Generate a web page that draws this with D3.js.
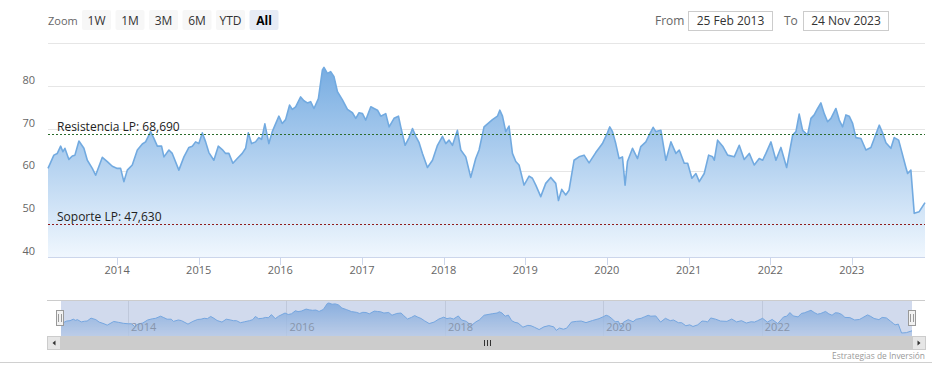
<!DOCTYPE html>
<html><head><meta charset="utf-8">
<script src="https://cdn.jsdelivr.net/npm/d3@7"></script>
<style>
body{margin:0;background:#fff}
svg{display:block;font-family:'Open Sans',sans-serif}
</style>
</head><body>
<svg id="c" width="943" height="379"></svg>
<script>
// ---- DATA ----
const startLabel = "25 Feb 2013", endLabel = "24 Nov 2023";
const startYear = 2013.153, endYear = 2023.897;
const dateYears = [2013.153,2013.225,2013.267,2013.308,2013.336,2013.360,2013.409,2013.451,2013.483,2013.532,2013.593,2013.635,2013.696,2013.737,2013.819,2013.880,2013.941,2014.002,2014.043,2014.083,2014.125,2014.186,2014.248,2014.309,2014.349,2014.411,2014.451,2014.493,2014.545,2014.574,2014.635,2014.676,2014.757,2014.819,2014.880,2014.922,2014.962,2015.002,2015.044,2015.085,2015.125,2015.186,2015.240,2015.289,2015.330,2015.370,2015.419,2015.473,2015.534,2015.575,2015.608,2015.648,2015.697,2015.738,2015.771,2015.811,2015.860,2015.902,2015.983,2016.024,2016.065,2016.114,2016.147,2016.188,2016.249,2016.289,2016.331,2016.371,2016.412,2016.466,2016.515,2016.534,2016.576,2016.616,2016.657,2016.699,2016.760,2016.821,2016.882,2016.923,2016.963,2017.005,2017.045,2017.107,2017.147,2017.189,2017.229,2017.290,2017.331,2017.392,2017.446,2017.474,2017.527,2017.576,2017.618,2017.658,2017.699,2017.740,2017.801,2017.863,2017.924,2017.985,2018.026,2018.066,2018.108,2018.169,2018.210,2018.271,2018.332,2018.393,2018.434,2018.495,2018.598,2018.659,2018.688,2018.721,2018.761,2018.801,2018.843,2018.884,2018.924,2018.985,2019.047,2019.088,2019.129,2019.190,2019.251,2019.313,2019.374,2019.407,2019.447,2019.496,2019.537,2019.598,2019.659,2019.721,2019.782,2019.864,2019.946,2020.007,2020.036,2020.069,2020.109,2020.150,2020.191,2020.223,2020.252,2020.314,2020.375,2020.415,2020.477,2020.517,2020.566,2020.599,2020.661,2020.722,2020.783,2020.844,2020.885,2020.946,2020.988,2021.040,2021.089,2021.130,2021.191,2021.245,2021.294,2021.314,2021.355,2021.417,2021.478,2021.559,2021.620,2021.681,2021.743,2021.804,2021.865,2021.907,2021.947,2022.009,2022.070,2022.131,2022.201,2022.275,2022.315,2022.355,2022.397,2022.458,2022.499,2022.539,2022.581,2022.621,2022.662,2022.703,2022.744,2022.805,2022.846,2022.887,2022.928,2022.968,2023.010,2023.050,2023.112,2023.173,2023.234,2023.275,2023.336,2023.377,2023.418,2023.479,2023.520,2023.574,2023.623,2023.663,2023.684,2023.724,2023.765,2023.826,2023.897];
const values = [60.7,63.8,64.2,65.9,64.6,65.4,62.8,63.6,63.8,67.1,65.4,62.6,60.7,59.1,63.3,62.3,61.2,60.7,60.7,57.6,60.3,61.5,65.0,66.4,66.9,69.3,67.7,65.9,65.9,63.4,65.0,64.2,60.3,63.4,65.6,65.9,66.9,66.5,69.0,66.9,64.4,62.6,65.9,65.1,64.2,64.2,61.9,63.0,64.2,65.4,69.0,66.5,66.9,67.9,67.5,71.1,66.5,69.3,72.9,71.2,72.1,75.5,74.5,75.1,77.4,76.5,76.0,76.3,74.7,77.0,83.7,84.3,82.9,83.3,82.1,78.6,76.7,74.5,73.7,72.4,73.7,73.5,72.0,75.1,74.7,74.3,72.9,73.5,70.4,72.4,72.9,70.4,66.1,67.9,70.0,68.2,66.7,64.2,60.9,62.6,66.1,68.2,66.5,67.3,66.1,69.6,65.0,63.4,58.6,63.0,65.0,70.4,72.1,72.9,74.3,72.9,69.3,70.6,64.2,62.3,61.5,56.8,58.9,58.4,56.8,54.1,57.2,58.6,57.2,53.2,55.8,54.5,55.6,62.6,63.4,63.8,62.0,64.4,66.5,69.0,70.4,69.3,66.5,63.0,63.4,56.8,62.3,65.4,63.0,65.8,66.9,68.5,70.3,69.3,69.6,62.6,66.9,64.2,65.0,61.9,61.9,58.4,59.5,57.6,59.5,63.8,63.4,62.6,67.3,65.9,63.8,63.4,66.1,62.8,64.2,61.5,63.0,62.6,64.2,66.9,62.6,65.6,60.9,68.5,69.3,73.4,69.6,68.5,72.4,73.2,74.7,76.0,73.5,71.6,72.4,74.7,72.0,70.4,73.2,72.9,71.2,67.9,67.7,65.0,65.6,67.7,70.8,69.0,66.7,65.4,67.9,67.3,63.8,60.9,59.5,60.3,50.2,50.6,52.7];
const yTickValues = [40,50,60,70,80,90];
const yTickLabels = ["40","50","60","70","80",""];
const levelValues = [68.69, 47.63];
const levelLabels = ["Resistencia LP: 68,690", "Soporte LP: 47,630"];
const levelColors = ["#2b6b2b", "#8e1c1c"];
const zoomButtons = ["1W","1M","3M","6M","YTD","All"];
const creditText = "Estrategias de Inversión";

// ---- helpers ----
function yearToDate(y){const yr=Math.floor(y);const a=Date.UTC(yr,0,1),b=Date.UTC(yr+1,0,1);return new Date(a+(y-yr)*(b-a));}
const data = dateYears.map((d,i)=>({date:yearToDate(d), v:values[i]}));
const t0 = yearToDate(startYear), t1 = yearToDate(endYear);

const svg = d3.select("#c");
const defs = svg.append("defs");
const PL=48, PR=925, PT=43, PB=257;

// ---- main scales ----
const x = d3.scaleUtc().domain([t0,t1]).range([PL,PR]);
const y = d3.scaleLinear().domain([40,90]).range([PB,PT]);

// gradient
const g1 = defs.append("linearGradient").attr("id","ga").attr("gradientUnits","userSpaceOnUse")
  .attr("x1",0).attr("x2",0).attr("y1",PT).attr("y2",PB);
g1.append("stop").attr("offset",0).attr("stop-color","rgb(104,163,222)");
g1.append("stop").attr("offset",1).attr("stop-color","rgb(240,247,254)");

// gridlines
svg.append("g").selectAll("line").data(yTickValues.filter(v=>v>40)).join("line")
  .attr("x1",PL).attr("x2",PR).attr("y1",d=>Math.round(y(d))+0.5).attr("y2",d=>Math.round(y(d))+0.5)
  .attr("stroke","#e6e6e6").attr("stroke-width",1);

// area + line
const area = d3.area().x(d=>x(d.date)).y0(PB).y1(d=>y(d.v)).curve(d3.curveLinear);
const line = d3.line().x(d=>x(d.date)).y(d=>y(d.v)).curve(d3.curveLinear);
svg.append("path").datum(data).attr("d",area).attr("fill","url(#ga)");
svg.append("path").datum(data).attr("d",line).attr("fill","none").attr("stroke","#72aae0").attr("stroke-width",1.6).attr("stroke-linejoin","round");

// y labels
svg.append("g").selectAll("text").data(yTickValues.map((v,i)=>({v,l:yTickLabels[i]})).filter(d=>d.l)).join("text")
  .attr("x",35).attr("y",d=>y(d.v)-2).attr("text-anchor","end")
  .attr("fill","#666").attr("font-size","11px").text(d=>d.l);

// x axis
svg.append("line").attr("x1",PL).attr("x2",PR).attr("y1",PB+0.5).attr("y2",PB+0.5).attr("stroke","#ccd6eb");
const years = d3.utcYear.range(d3.utcYear.ceil(t0), t1);
const xa = svg.append("g");
xa.selectAll("line").data(years).join("line")
  .attr("x1",d=>Math.round(x(d))+0.5).attr("x2",d=>Math.round(x(d))+0.5)
  .attr("y1",PB).attr("y2",PB+8).attr("stroke","#ccd6eb");
xa.selectAll("text").data(years).join("text")
  .attr("x",d=>x(d)).attr("y",PB+17).attr("text-anchor","middle")
  .attr("fill","#666").attr("font-size","11px").text(d=>d3.utcFormat("%Y")(d));

// plot lines
levelValues.forEach((v,i)=>{
  const yy = Math.round(y(v))+0.5;
  svg.append("line").attr("x1",PL).attr("x2",PR).attr("y1",yy).attr("y2",yy)
    .attr("stroke",levelColors[i]).attr("stroke-width",1).attr("stroke-dasharray","2,2");
  svg.append("text").attr("x",PL+9).attr("y",yy-3.5).attr("fill","#222").attr("font-size","12px").text(levelLabels[i]);
});

// ---- range selector ----
svg.append("text").attr("x",48).attr("y",25).attr("fill","#666").attr("font-size","11px").text("Zoom");
const bx0 = 82, bstep = 33.5;
zoomButtons.forEach((b,i)=>{
  const sel = b==="All";
  svg.append("rect").attr("x",bx0+i*bstep).attr("y",10).attr("width",29).attr("height",20).attr("rx",2)
    .attr("fill", sel?"#e6ebf5":"#f7f7f7");
  svg.append("text").attr("x",bx0+i*bstep+14.5).attr("y",25).attr("text-anchor","middle")
    .attr("fill", sel?"#000":"#333").attr("font-weight",sel?"bold":"normal").attr("font-size","12px").text(b);
});
svg.append("text").attr("x",655).attr("y",25).attr("fill","#666").attr("font-size","12px").text("From");
svg.append("rect").attr("x",688.5).attr("y",11.5).attr("width",84).attr("height",19).attr("fill","#fff").attr("stroke","#cccccc");
svg.append("text").attr("x",730.5).attr("y",25).attr("text-anchor","middle").attr("fill","#333").attr("font-size","12px").text(startLabel);
svg.append("text").attr("x",784).attr("y",25).attr("fill","#666").attr("font-size","12px").text("To");
svg.append("rect").attr("x",803.5).attr("y",11.5).attr("width",85).attr("height",19).attr("fill","#fff").attr("stroke","#cccccc");
svg.append("text").attr("x",846).attr("y",25).attr("text-anchor","middle").attr("fill","#333").attr("font-size","12px").text(endLabel);

// ---- navigator ----
const NL=61, NR=912, NT=300, NB=336;
const nx = d3.scaleUtc().domain([t0,t1]).range([NL,NR]);
const [mn,mx] = d3.extent(values); const pad=(mx-mn)*0.1;
const ny = d3.scaleLinear().domain([mn-pad,mx+pad]).range([NB,NT]);
const g2 = defs.append("linearGradient").attr("id","gn").attr("gradientUnits","userSpaceOnUse")
  .attr("x1",0).attr("x2",0).attr("y1",NT).attr("y2",NB);
g2.append("stop").attr("offset",0).attr("stop-color","rgb(110,168,226)");
g2.append("stop").attr("offset",1).attr("stop-color","rgb(214,229,245)");
// navigator grid & labels
const navYears = d3.utcYear.every(2).range(d3.utcYear.ceil(t0), t1);
svg.append("g").selectAll("line").data(navYears).join("line")
  .attr("x1",d=>Math.round(nx(d))+0.5).attr("x2",d=>Math.round(nx(d))+0.5).attr("y1",NT).attr("y2",NB)
  .attr("stroke","#e6e6e6");
const narea = d3.area().x(d=>nx(d.date)).y0(NB).y1(d=>ny(d.v));
const nline = d3.line().x(d=>nx(d.date)).y(d=>ny(d.v));
svg.append("path").datum(data).attr("d",narea).attr("fill","url(#gn)").attr("fill-opacity",0.75);
svg.append("path").datum(data).attr("d",nline).attr("fill","none").attr("stroke","#7cb5ec").attr("stroke-width",1);
// mask
svg.append("rect").attr("x",NL).attr("y",NT).attr("width",NR-NL).attr("height",NB-NT).attr("fill","rgba(102,133,194,0.3)");
svg.append("g").selectAll("text").data(navYears).join("text")
  .attr("x",d=>nx(d)+3).attr("y",NB-5).attr("fill","#8795ab").attr("font-size","11px").text(d=>d3.utcFormat("%Y")(d));
// outline
svg.append("line").attr("x1",47).attr("x2",925).attr("y1",NT+0.5).attr("y2",NT+0.5).attr("stroke","#cccccc");
// handles
[NL-1, NR].forEach(hx=>{
  const hg = svg.append("g").attr("transform",`translate(${Math.round(hx)},${(NT+NB)/2})`);
  hg.append("rect").attr("x",-3.5).attr("y",-7.5).attr("width",7).attr("height",15).attr("fill","#f2f2f2").attr("stroke","#999");
  hg.append("line").attr("x1",-1.5).attr("x2",-1.5).attr("y1",-4).attr("y2",4).attr("stroke","#999");
  hg.append("line").attr("x1",1.5).attr("x2",1.5).attr("y1",-4).attr("y2",4).attr("stroke","#999");
});
// scrollbar
const SY=336, SH=14;
svg.append("rect").attr("x",47).attr("y",SY).attr("width",878).attr("height",SH).attr("fill","#f2f2f2");
svg.append("rect").attr("x",NL).attr("y",SY).attr("width",NR-NL).attr("height",SH).attr("fill","#cccccc");
[[47,"L"],[NR,"R"]].forEach(([bx,dir])=>{
  svg.append("rect").attr("x",bx+0.5).attr("y",SY+0.5).attr("width",13).attr("height",SH-1).attr("fill","#e6e6e6").attr("stroke","#cccccc");
  const cx=bx+7, cy=SY+7;
  const p = dir==="L" ? `M${cx+1.5},${cy-2.5}L${cx-1.5},${cy}L${cx+1.5},${cy+2.5}Z` : `M${cx-1.5},${cy-2.5}L${cx+1.5},${cy}L${cx-1.5},${cy+2.5}Z`;
  svg.append("path").attr("d",p).attr("fill","#333");
});
const rx=(NL+NR)/2;
[-3,0,3].forEach(o=>svg.append("line").attr("x1",Math.round(rx+o)+0.5).attr("x2",Math.round(rx+o)+0.5).attr("y1",SY+4).attr("y2",SY+10).attr("stroke","#333"));

// credits + bottom line
svg.append("text").attr("x",925).attr("y",359).attr("text-anchor","end").attr("fill","#999").attr("font-size","8.4px").text(creditText);
svg.append("line").attr("x1",0).attr("x2",932).attr("y1",362.5).attr("y2",362.5).attr("stroke","#d0d0d0");
</script>
</body></html>
